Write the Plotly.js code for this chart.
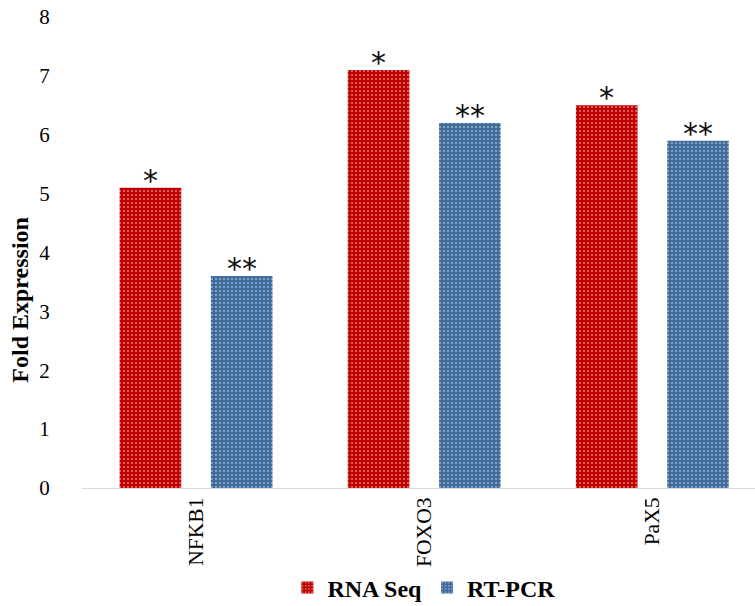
<!DOCTYPE html>
<html>
<head>
<meta charset="utf-8">
<script src="https://cdn.plot.ly/plotly-3.0.1.min.js"></script>
<style>html,body{margin:0;padding:0;background:#fff;}#chart{width:755px;height:606px;}</style>
</head>
<body>
<div id="chart"></div>
<script>
var genes = ["NFKB1", "FOXO3", "PaX5"];
var rnaSeq = [5.1, 7.1, 6.5];
var rtPcr = [3.6, 6.2, 5.9];
var rnaSig = ["*", "*", "*"];
var pcrSig = ["**", "**", "**"];

var serif = "Liberation Serif";
var red = "#C00000", blue = "#3E6C9C";

function patt(c) {
  return {shape: ".", fgcolor: "rgba(255,255,255,0.45)", bgcolor: c, size: 4, solidity: 0.22};
}

var traces = [
  {type: "bar", name: "RNA Seq", x: genes, y: rnaSeq,
   marker: {color: red, line: {width: 0}, pattern: patt(red)}, hoverinfo: "none"},
  {type: "bar", name: "RT-PCR", x: genes, y: rtPcr,
   marker: {color: blue, line: {width: 0}, pattern: patt(blue)}, hoverinfo: "none"}
];

var annotations = [];
genes.forEach(function (g, i) {
  annotations.push({x: g, y: rnaSeq[i], xref: "x", yref: "y", text: rnaSig[i], showarrow: false,
    xshift: -46, yanchor: "bottom", yshift: -12,
    font: {family: "DejaVu Sans", size: 30, color: "#111"}});
  annotations.push({x: g, y: rtPcr[i], xref: "x", yref: "y", text: pcrSig[i], showarrow: false,
    xshift: 46, yanchor: "bottom", yshift: -12,
    font: {family: "DejaVu Sans", size: 30, color: "#111"}});
});
annotations.push({xref: "paper", yref: "paper", x: -0.092, y: 0.40, xanchor: "center", yanchor: "middle",
  textangle: -90, showarrow: false, text: "<b>Fold Expression</b>",
  font: {family: serif, size: 24, color: "#000"}});

var layout = {
  width: 755, height: 606,
  margin: {l: 82, r: 0, t: 17, b: 118},
  paper_bgcolor: "#fff", plot_bgcolor: "#fff",
  barmode: "group", bargap: 0.2, bargroupgap: 0.325,
  showlegend: true,
  legend: {orientation: "h", x: 0.508, xanchor: "center", yref: "container", y: 0.03, yanchor: "middle",
    bgcolor: "rgba(0,0,0,0)", itemgap: 6,
    font: {family: serif, size: 24, color: "#000", weight: "bold"}, itemwidth: 30, traceorder: "normal"},
  annotations: annotations,
  xaxis: {
    range: [-0.5, 2.45], showgrid: false, zeroline: false,
    showline: true, linecolor: "#d9d9d9", linewidth: 1,
    ticks: "", tickangle: -90,
    tickfont: {family: serif, size: 21.5, color: "#000"}
  },
  yaxis: {
    range: [0, 8], dtick: 1, showgrid: false, zeroline: false, showline: false,
    ticks: "outside", ticklen: 27, tickcolor: "rgba(0,0,0,0)",
    tickfont: {family: serif, size: 21, color: "#000"}
  }
};

Plotly.newPlot("chart", traces, layout, {staticPlot: true, displayModeBar: false});
</script>
</body>
</html>
